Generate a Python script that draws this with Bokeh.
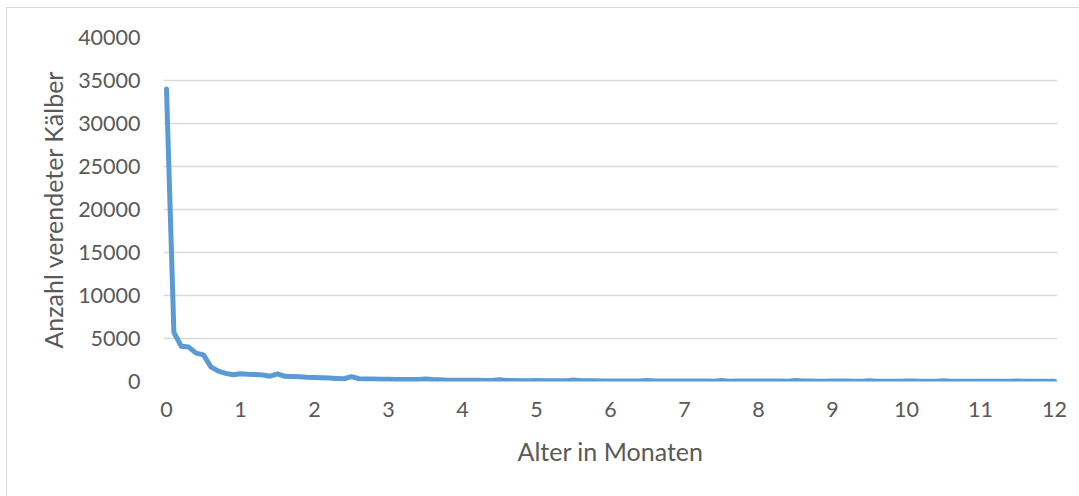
from bokeh.plotting import figure
from bokeh.models import ColumnDataSource, FixedTicker, Range1d, NumeralTickFormatter, InlineStyleSheet
from bokeh.embed import file_html
from bokeh.resources import INLINE

# Data: age in months vs number of dead calves
alter = [0.0, 0.1, 0.2, 0.3, 0.4, 0.5, 0.6, 0.7, 0.8, 0.9,
         1.0, 1.1, 1.2, 1.3, 1.4, 1.5, 1.6, 1.7, 1.8, 1.9,
         2.0, 2.1, 2.2, 2.3, 2.4, 2.5, 2.6, 2.7, 2.8, 2.9,
         3.0, 3.1, 3.2, 3.3, 3.4, 3.5, 3.6, 3.7, 3.8, 3.9,
         4.0, 4.1, 4.2, 4.3, 4.4, 4.5, 4.6, 4.7, 4.8, 4.9,
         5.0, 5.1, 5.2, 5.3, 5.4, 5.5, 5.6, 5.7, 5.8, 5.9,
         6.0, 6.1, 6.2, 6.3, 6.4, 6.5, 6.6, 6.7, 6.8, 6.9,
         7.0, 7.1, 7.2, 7.3, 7.4, 7.5, 7.6, 7.7, 7.8, 7.9,
         8.0, 8.1, 8.2, 8.3, 8.4, 8.5, 8.6, 8.7, 8.8, 8.9,
         9.0, 9.1, 9.2, 9.3, 9.4, 9.5, 9.6, 9.7, 9.8, 9.9,
         10.0, 10.1, 10.2, 10.3, 10.4, 10.5, 10.6, 10.7, 10.8, 10.9,
         11.0, 11.1, 11.2, 11.3, 11.4, 11.5, 11.6, 11.7, 11.8, 11.9,
         12.0]
anzahl = [34000, 5700, 4100, 4000, 3300, 3100, 1700, 1200, 950, 780,
          900, 830, 800, 760, 620, 880, 600, 590, 560, 500,
          470, 430, 400, 360, 320, 560, 320, 300, 280, 250,
          250, 240, 240, 230, 240, 280, 230, 200, 150, 140,
          150, 150, 140, 130, 130, 200, 130, 110, 100, 100,
          110, 100, 100, 90, 90, 180, 90, 80, 80, 70,
          70, 70, 70, 60, 60, 110, 60, 60, 60, 50,
          60, 60, 50, 50, 40, 120, 40, 50, 50, 50,
          60, 60, 50, 50, 40, 120, 50, 50, 40, 40,
          60, 50, 50, 40, 40, 90, 40, 40, 40, 40,
          50, 50, 40, 40, 40, 80, 40, 40, 30, 30,
          40, 40, 30, 30, 30, 70, 30, 30, 30, 30,
          40]
x_ticks = [0, 1, 2, 3, 4, 5, 6, 7, 8, 9, 10, 11, 12]
y_ticks = [0, 5000, 10000, 15000, 20000, 25000, 30000, 35000, 40000]

FONT = "Lato"
TXT = "#595959"
TICK_FS = "21.5px"
TITLE_FS = "25px"

src = ColumnDataSource(data=dict(alter=alter, anzahl=anzahl))

p = figure(width=1079, height=496, output_backend="svg", toolbar_location=None,
           x_range=Range1d(-3 / 74, 12 + 3 / 74), y_range=Range1d(0, 40000),
           min_border_left=163, min_border_right=22, min_border_top=37, min_border_bottom=115)

p.line("alter", "anzahl", source=src, line_color="#5B9BD5", line_width=5,
       line_join="round", line_cap="round")

p.outline_line_color = None
p.background_fill_color = "white"
p.border_fill_color = "white"

p.xgrid.visible = False
p.ygrid.grid_line_color = "#D9D9D9"
p.ygrid.grid_line_width = 1.3

p.xaxis.ticker = FixedTicker(ticks=x_ticks)
p.yaxis.ticker = FixedTicker(ticks=y_ticks)
p.yaxis.formatter = NumeralTickFormatter(format="0")

for ax in (p.xaxis[0], p.yaxis[0]):
    ax.axis_line_color = None
    ax.major_tick_line_color = None
    ax.minor_tick_line_color = None
    ax.major_tick_out = 0
    ax.major_tick_in = 0
    ax.minor_tick_out = 0
    ax.major_label_text_font = FONT
    ax.major_label_text_font_size = TICK_FS
    ax.major_label_text_color = TXT
    ax.axis_label_text_font = FONT
    ax.axis_label_text_font_size = TITLE_FS
    ax.axis_label_text_color = TXT
    ax.axis_label_text_font_style = "normal"

p.yaxis.major_label_standoff = 23
p.xaxis.major_label_standoff = 20
p.yaxis.axis_label = "Anzahl verendeter Kälber"
p.xaxis.axis_label = "Alter in Monaten"
p.yaxis.axis_label_standoff = 7
p.xaxis.axis_label_standoff = 16

p.stylesheets = [InlineStyleSheet(css="""
:host { position: relative; }
:host::after {
  content: '';
  position: absolute;
  left: 6px; top: 7px; right: 0; bottom: 0;
  border-left: 1px solid #D9D9D9;
  border-top: 1px solid #D9D9D9;
  pointer-events: none;
  z-index: 10;
}
""")]

open("out.html", "w").write(file_html(p, INLINE))
